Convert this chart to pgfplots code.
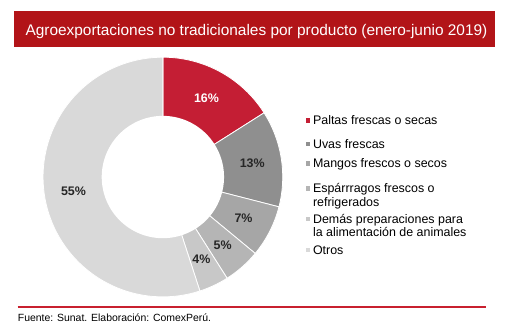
\documentclass[border=0pt]{standalone}
\usepackage{pgfplots}
\pgfplotsset{compat=1.18}
\usepackage{pgfplotstable}
\usepackage{fontspec}
\setmainfont{Liberation Sans}
\definecolor{banner}{RGB}{178,20,24}
\definecolor{c1}{RGB}{196,30,52}
\definecolor{c2}{RGB}{143,143,143}
\definecolor{c3}{RGB}{166,166,166}
\definecolor{c4}{RGB}{181,181,181}
\definecolor{c5}{RGB}{200,200,200}
\definecolor{c6}{RGB}{217,217,217}
\definecolor{footrule}{RGB}{200,32,47}

% share of each product (%), clockwise from the top
\pgfplotstableread{
idx value
0 16
1 13
2 7
3 5
4 4
5 55
}\donutdata

\def\cx{161}\def\cy{178}\def\Rout{120.5}\def\Rin{61.5}\def\Rlab{91}

\newcommand\slice[3]{%
  \edef\A{\csname sa#1\endcsname}\edef\B{\csname ea#1\endcsname}%
  \edef\doplot{\noexpand\addplot[fill=#2, draw=white, line width=0.8bp, domain=\B:\A, samples=80]
    ({\cx+\Rout*cos(x)}, {\cy-\Rout*sin(x)}) -- (axis cs:\cx,\cy) -- cycle;}%
  \doplot
  \addlegendentry{#3}%
}

\begin{document}
\def\cum{0}
\pgfplotsforeachungrouped \idx in {0,...,5}{%
  \pgfplotstablegetelem{\idx}{value}\of\donutdata
  \let\val\pgfplotsretval
  \pgfmathsetmacro\sa{90-3.6*\cum}%
  \pgfmathsetmacro\cum{\cum+\val}%
  \pgfmathsetmacro\ea{90-3.6*\cum}%
  \pgfmathsetmacro\ma{(\sa+\ea)/2}%
  \pgfmathsetmacro\mx{\cx+\Rlab*cos(\ma)}%
  \pgfmathsetmacro\my{\cy-\Rlab*sin(\ma)}%
  \pgfmathtruncatemacro\pv{\val}%
  \expandafter\xdef\csname sa\idx\endcsname{\sa}%
  \expandafter\xdef\csname ea\idx\endcsname{\ea}%
  \expandafter\xdef\csname mx\idx\endcsname{\mx}%
  \expandafter\xdef\csname my\idx\endcsname{\my}%
  \expandafter\xdef\csname pv\idx\endcsname{\pv}%
}%
\begin{tikzpicture}
\begin{axis}[
  name=ax,
  width=505bp, height=335bp, scale only axis,
  xmin=0, xmax=505, ymin=0, ymax=335, y dir=reverse,
  hide axis, clip=false,
  legend style={at={(0.60297,0.66119)}, anchor=north west, draw=none, fill=none,
    inner sep=0pt, outer sep=0pt, row sep=0pt, column sep=3bp,
    font=\fontsize{12.5bp}{13.5bp}\selectfont,
    cells={anchor=base west}, nodes={inner sep=0pt, outer sep=0pt, text depth=, text height=}},
  legend image code/.code={\fill[#1, draw=none] (0bp,2bp) rectangle (4.5bp,6.5bp);},
]
\slice{0}{c1}{\rule[-11.8bp]{0pt}{23.8bp}Paltas frescas o secas}
\slice{1}{c2}{\rule[-7.2bp]{0pt}{19.2bp}Uvas frescas}
\slice{2}{c3}{\rule[-13.5bp]{0pt}{25.5bp}Mangos frescos o secos}
\slice{3}{c4}{\begin{tabular}[t]{@{}l@{}}\rule{0pt}{12bp}Espárrragos frescos o\\refrigerados\rule[-5bp]{0pt}{0pt}\end{tabular}}
\slice{4}{c5}{\begin{tabular}[t]{@{}l@{}}\rule{0pt}{12bp}Demás preparaciones para\\la alimentación de animales\rule[-5.5bp]{0pt}{0pt}\end{tabular}}
\slice{5}{c6}{\rule{0pt}{12bp}Otros}
\addplot[fill=white, draw=none, domain=0:360, samples=120, forget plot]
  ({\cx+\Rin*cos(x)}, {\cy-\Rin*sin(x)}) -- cycle;
% percentage labels at mid-angle of each ring segment
\node[font=\bfseries\fontsize{12.5bp}{14bp}\selectfont, text=white] at (axis cs:\csname mx0\endcsname,\csname my0\endcsname) {\csname pv0\endcsname\%};
\node[font=\bfseries\fontsize{12.5bp}{14bp}\selectfont, text=black!85] at (axis cs:\csname mx1\endcsname,\csname my1\endcsname) {\csname pv1\endcsname\%};
\node[font=\bfseries\fontsize{12.5bp}{14bp}\selectfont, text=black!85] at (axis cs:\csname mx2\endcsname,\csname my2\endcsname) {\csname pv2\endcsname\%};
\node[font=\bfseries\fontsize{12.5bp}{14bp}\selectfont, text=black!85] at (axis cs:\csname mx3\endcsname,\csname my3\endcsname) {\csname pv3\endcsname\%};
\node[font=\bfseries\fontsize{12.5bp}{14bp}\selectfont, text=black!85] at (axis cs:\csname mx4\endcsname,\csname my4\endcsname) {\csname pv4\endcsname\%};
\node[font=\bfseries\fontsize{12.5bp}{14bp}\selectfont, text=black!85] at (axis cs:\csname mx5\endcsname,\csname my5\endcsname) {\csname pv5\endcsname\%};
% title banner
\fill[banner] (axis cs:11.7,10.7) rectangle (axis cs:494.5,47.3);
\node[anchor=base west, inner sep=0pt, text=white, font=\fontsize{15.5bp}{18bp}\selectfont]
  at (axis cs:22.7,36) {Agroexportaciones no tradicionales por producto (enero-junio 2019)};
% footer
\draw[footrule, line width=2bp] (axis cs:15,309) -- (axis cs:486,309);
\node[anchor=base west, inner sep=0pt, font=\fontsize{10.5bp}{12bp}\selectfont]
  at (axis cs:15,323.5) {Fuente: Sunat. Elaboración: ComexPerú.};
\end{axis}
\pgfresetboundingbox
\useasboundingbox (ax.south west) rectangle (ax.north east);
\end{tikzpicture}
\end{document}
